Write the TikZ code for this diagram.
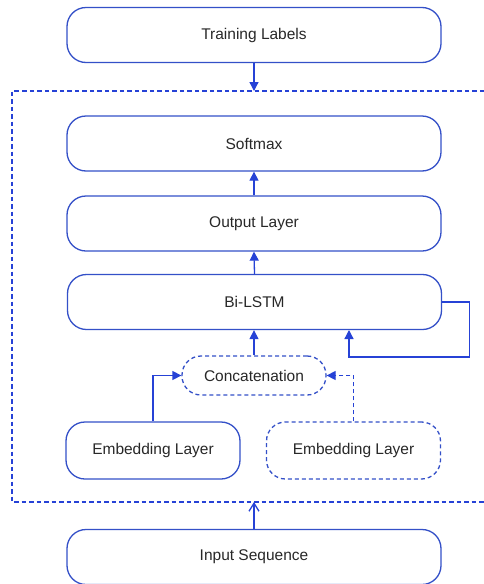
\documentclass[tikz,border=0pt]{standalone}
\usepackage{fontspec}
\setmainfont{Liberation Sans}
\usetikzlibrary{arrows.meta}
\definecolor{lnblue}{RGB}{38,66,214}
\definecolor{bxblue}{RGB}{52,80,200}
\definecolor{txt}{RGB}{40,40,40}
\begin{document}
\begin{tikzpicture}[x=1pt,y=-1pt,
  box/.style={draw=bxblue,line width=1.3pt,rounded corners=19pt,text=txt,
    font=\fontsize{15.5}{18}\selectfont,inner sep=0pt},
  wide/.style={box,minimum width=374pt,minimum height=55pt},
  emb/.style={box,minimum width=174pt,minimum height=57pt},
  dbox/.style={dash pattern=on 4pt off 3pt},
  conn/.style={draw=lnblue,line width=1.3pt,-{Triangle[length=9pt,width=9pt]}},
  frame/.style={draw=lnblue,line width=1.3pt,dash pattern=on 4.5pt off 3pt}]
\useasboundingbox (0,0) rectangle (484,584);
\fill[white] (0,0) rectangle (484,584);
\node[wide] (train) at (254,35) {Training Labels};
\node[wide] (soft) at (254,143.5) {Softmax};
\node[wide] (out) at (254,223.5) {Output Layer};
\node[wide] (lstm) at (254.5,302) {Bi-LSTM};
\node[box,dbox,minimum width=144pt,minimum height=39pt] (cat) at (254,375.5) {Concatenation};
\node[emb] (emb1) at (153,450.5) {Embedding Layer};
\node[emb,dbox] (emb2) at (353.5,450.5) {Embedding Layer};
\node[wide] (inp) at (254,557) {Input Sequence};
\coordinate (ftop) at (254,91);
\coordinate (fbot) at (254,502);
\draw[frame] (484,91) -- (12,91) -- (12,502) -- (484,502);
\draw[conn] (train.south) -- (ftop);
\draw[draw=lnblue,line width=1.3pt,-{Straight Barb[length=8pt,width=10pt]}] (inp.north) -- (fbot);
\draw[conn] (out.north) -- (soft.south);
\draw[conn] (lstm.north) -- (out.south);
\draw[conn] (cat.north) -- (cat.north |- lstm.south);
\draw[conn] (lstm.east) -- ++(27,0) |- (349,357) -- (349,330);
\draw[conn] (emb1.north) |- (cat.west);
\draw[conn,dbox] (emb2.north) |- (cat.east);
\end{tikzpicture}
\end{document}
